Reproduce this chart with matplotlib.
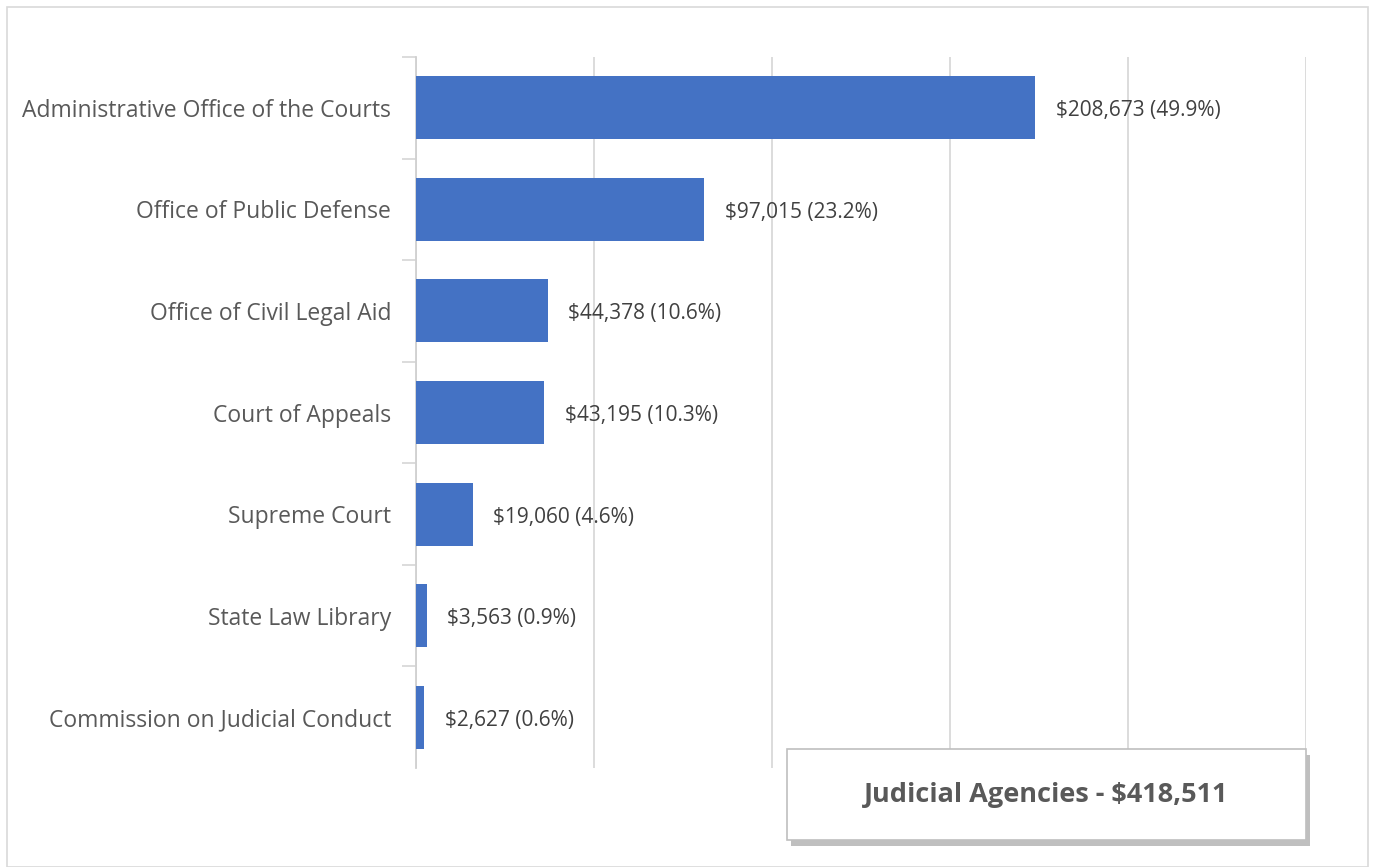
import matplotlib
matplotlib.use("Agg")
import matplotlib.pyplot as plt
import matplotlib.patches as mpatches
import matplotlib.patheffects as pe
import numpy as np

# Data (thousands of dollars)
agencies = ["Administrative Office of the Courts", "Office of Public Defense",
            "Office of Civil Legal Aid", "Court of Appeals", "Supreme Court",
            "State Law Library", "Commission on Judicial Conduct"]
amounts = [208673, 97015, 44378, 43195, 19060, 3563, 2627]
shares = [49.9, 23.2, 10.6, 10.3, 4.6, 0.9, 0.6]
total_label = "Judicial Agencies - $418,511"

plt.rcParams['font.family'] = ['Open Sans', 'DejaVu Sans']

W, H = 1373, 867
fig = plt.figure(figsize=(W / 100, H / 100), dpi=100)
ax = fig.add_axes([416 / W, 1 - 768 / H, (1306 - 416) / W, (768 - 57) / H])

y = np.arange(len(agencies))
ax.barh(y, amounts, height=0.62, color='#4472C4', zorder=3)
ax.set_ylim(len(agencies) - 0.5, -0.5)
ax.set_xlim(0, 300000)

# value labels
for yi, v, s in zip(y, amounts, shares):
    ax.text(v + 7000, yi + 0.03, f"${v:,} ({s}%)", va='center', ha='left',
            fontsize=15, color='#404040', zorder=4)

# gridlines
ax.set_xticks(np.arange(0, 300001, 60000))
ax.xaxis.grid(True, color='#D9D9D9', linewidth=1.3, zorder=0)
ax.tick_params(axis='x', length=0, labelbottom=False)

# category labels and boundary ticks
ax.set_yticks(y)
ax.set_yticklabels(agencies, fontsize=16.5, color='#595959')
ax.tick_params(axis='y', which='major', length=0, pad=18)
ax.set_yticks(np.arange(-0.5, len(agencies) - 1, 1), minor=True)
ax.tick_params(axis='y', which='minor', length=10, color='#D9D9D9', width=1.3)

for side in ['top', 'right', 'bottom']:
    ax.spines[side].set_visible(False)
ax.spines['left'].set_color('#D0D0D0')
ax.spines['left'].set_linewidth(1.3)

# total box with shadow
bx0, by0, bx1, by1 = 787, 749, 1306, 840
box = mpatches.Rectangle((bx0 / W, 1 - by1 / H), (bx1 - bx0) / W, (by1 - by0) / H,
                         transform=fig.transFigure, facecolor='white',
                         edgecolor='#BFBFBF', linewidth=1.2, zorder=10,
                         path_effects=[pe.SimplePatchShadow(offset=(3, -4), shadow_rgbFace='#8C8C8C', alpha=0.55),
                                       pe.Normal()])
fig.patches.append(box)
fig.text((bx0 + bx1) / 2 / W, 1 - (by0 + by1) / 2 / H, total_label,
         ha='center', va='center', fontsize=19.5, fontweight='bold',
         color='#595959', zorder=11)

# outer chart border
border = mpatches.Rectangle((7 / W, 0), (1368 - 7) / W, 1 - 7 / H,
                            transform=fig.transFigure, fill=False,
                            edgecolor='#D9D9D9', linewidth=1.2)
fig.patches.append(border)

fig.savefig("out.png", dpi=100)
